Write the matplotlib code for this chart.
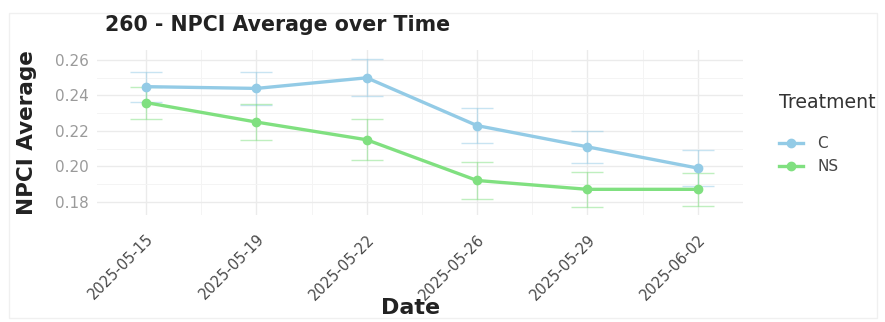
import matplotlib
matplotlib.use("Agg")
import matplotlib.pyplot as plt
from matplotlib.ticker import FixedLocator
from matplotlib.patches import Rectangle
import numpy as np

dates = ["2025-05-15", "2025-05-19", "2025-05-22", "2025-05-26", "2025-05-29", "2025-06-02"]
c_mean = [0.245, 0.244, 0.250, 0.223, 0.211, 0.199]
c_err = [0.0085, 0.0095, 0.0105, 0.0100, 0.0090, 0.0100]
ns_mean = [0.236, 0.225, 0.215, 0.192, 0.187, 0.187]
ns_err = [0.0090, 0.0100, 0.0115, 0.0105, 0.0100, 0.0095]
y_ticks = [0.18, 0.20, 0.22, 0.24, 0.26]

plt.rcParams['font.family'] = ['DejaVu Sans']

W, H = 885, 322
fig = plt.figure(figsize=(W / 100, H / 100), dpi=100)
ax = fig.add_axes([97 / W, 1 - 215 / H, (743 - 97) / W, (215 - 50) / H])

x = np.arange(1, len(dates) + 1)
c_col = "#93CBE6"
ns_col = "#80E080"

for mean, err, col, lab in [(c_mean, c_err, c_col, "C"), (ns_mean, ns_err, ns_col, "NS")]:
    ax.errorbar(x, mean, yerr=err, fmt='none', ecolor=col, elinewidth=1.0,
                capsize=11.5, capthick=1.0, alpha=0.5, zorder=2)
    ax.plot(x, mean, color=col, lw=2.4, marker='o', ms=6, label=lab, zorder=3)

ax.set_xlim(0.556, 6.41)
ax.set_ylim(0.1725, 0.2657)
ax.set_xticks(x)
ax.set_xticklabels(dates, rotation=45, ha='right', va='top', rotation_mode='anchor',
                   fontsize=10.5, color='#4a4a4a')
ax.xaxis.set_minor_locator(FixedLocator(x[:-1] + 0.5))
ax.set_yticks(y_ticks)
ax.set_yticklabels([f"{v:.2f}" for v in y_ticks], fontsize=11, color='#9a9a9a')
ax.yaxis.set_minor_locator(FixedLocator([0.17, 0.19, 0.21, 0.23, 0.25]))
ax.grid(which='major', color='#EBEBEB', lw=1.0)
ax.grid(which='minor', color='#F4F4F4', lw=0.7)
ax.set_axisbelow(True)
ax.tick_params(axis='y', which='both', length=0, pad=6)
ax.tick_params(axis='x', which='both', length=0, pad=12)
for s in ax.spines.values():
    s.set_visible(False)

fig.text(411 / W, 1 - 308 / H, "Date", fontsize=16, fontweight='bold', color='#222222',
         ha='center', va='center')
fig.text(27 / W, 1 - 133 / H, "NPCI Average", fontsize=15.5, fontweight='bold',
         color='#222222', ha='center', va='center', rotation=90)
fig.text(105 / W, 1 - 25 / H, "260 - NPCI Average over Time", fontsize=14.8,
         fontweight='bold', color='#222222', ha='left', va='center')

leg = ax.legend(title="Treatment", loc='upper left', bbox_to_anchor=(779 / W, 1 - 93 / H),
                bbox_transform=fig.transFigure,
                frameon=False, fontsize=11, title_fontsize=13.6, handlelength=1.6,
                handletextpad=0.9, labelspacing=0.5, borderaxespad=0, borderpad=0)
for t in leg.get_texts():
    t.set_color('#444444')
leg.get_title().set_color('#333333')
leg._legend_box.align = "left"
leg._legend_box.sep = 17.5

fig.patches.append(Rectangle((9 / W, 1 - 318 / H), (877 - 9) / W, (318 - 13) / H,
                             transform=fig.transFigure, fill=False,
                             edgecolor='#F0F0F0', lw=1.0))

fig.savefig("out.png", dpi=100, facecolor='white')
